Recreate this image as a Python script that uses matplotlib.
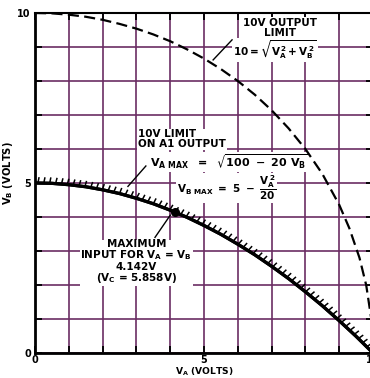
import matplotlib
matplotlib.use('Agg')
import matplotlib.pyplot as plt
import matplotlib.patheffects as pe

# values
va_solid = [0, 0.5, 1, 1.5, 2, 2.5, 3, 3.5, 4, 4.5, 5, 5.5, 6, 6.5, 7, 7.5, 8, 8.5, 9, 9.5, 10]
vb_solid = [5, 4.99, 4.95, 4.89, 4.8, 4.69, 4.55, 4.39, 4.2, 3.99, 3.75, 3.49, 3.2, 2.89,
            2.55, 2.19, 1.8, 1.39, 0.95, 0.49, 0]

va_dash = [0, 0.5, 1, 1.5, 2, 2.5, 3, 3.5, 4, 4.5, 5, 5.5, 6, 6.5, 7, 7.5, 8, 8.5, 9,
           9.3, 9.6, 9.8, 9.95, 10]
vb_dash = [10, 9.99, 9.95, 9.89, 9.8, 9.68, 9.54, 9.37, 9.17, 8.93, 8.66, 8.35, 8.0, 7.6,
           7.14, 6.61, 6.0, 5.27, 4.36, 3.67, 2.8, 1.99, 1.0, 0]

max_point = (4.142, 4.142)

ticks = list(range(11))
tick_labels = ['0', '', '', '', '', '5', '', '', '', '', '10']

plt.rcParams['font.family'] = ['DejaVu Sans']
plt.rcParams['font.weight'] = 'bold'
plt.rcParams['mathtext.fontset'] = 'dejavusans'
plt.rcParams['mathtext.default'] = 'bf'

fig = plt.figure(figsize=(3.7, 3.78), dpi=100)
ax = fig.add_axes([35 / 370, 25 / 378, 338 / 370, 340 / 378])

grid_col = '#6b2d63'
ax.set_xlim(0, 10)
ax.set_ylim(0, 10)
ax.set_xticks(ticks)
ax.set_yticks(ticks)
ax.set_xticklabels(tick_labels)
ax.set_yticklabels(tick_labels)
ax.grid(True, color=grid_col, lw=1.2, zorder=0)
ax.set_axisbelow(True)
ax.tick_params(direction='in', length=5, width=1.3, top=True, right=True,
               labelsize=7, pad=3)
ax.tick_params(axis='x', pad=1.5)
for lab in ax.get_xticklabels() + ax.get_yticklabels():
    lab.set_fontweight('bold')
for s in ['left', 'bottom']:
    ax.spines[s].set_linewidth(2)
ax.spines['top'].set_linewidth(1.5)
ax.spines['right'].set_visible(False)

# curves
ax.plot(va_dash, vb_dash, color='black', lw=1.6, ls=(0, (5, 2.4)), zorder=3)
ax.plot(va_solid, vb_solid, color='black', lw=2.3, zorder=3,
        path_effects=[pe.withTickedStroke(spacing=4.2, angle=80, length=0.9, linewidth=1.1),
                      pe.Normal()])
ax.plot(*max_point, 'o', color='black', ms=5.5, zorder=4)

box = dict(fc='white', ec='none', pad=0.6)
fs = 7.5

ax.text(7.25, 9.55, '10V OUTPUT\nLIMIT', ha='center', va='center', fontsize=fs,
        linespacing=1.0, bbox=box, zorder=2)
ax.text(5.86, 8.92, r'$10 = \sqrt{V_A^{\,2} + V_B^{\,2}}$', ha='left', va='center',
        fontsize=fs, bbox=box, zorder=2)
ax.plot([5.27, 5.83], [8.62, 9.21], color='black', lw=1, zorder=3)

ax.text(3.05, 6.28, '10V LIMIT\nON A1 OUTPUT', ha='left', va='center', fontsize=fs,
        linespacing=1.0, bbox=box, zorder=2)
ax.text(3.4, 5.62, r'$V_{A\,\,MAX}\ \ =\ \ \sqrt{100\ -\ 20\ V_B}$', ha='left', va='center',
        fontsize=8, bbox=box, zorder=2)
ax.plot([2.75, 3.28], [4.9, 5.5], color='black', lw=1, zorder=3)

ax.text(4.2, 4.85, r'$V_{B\,\,MAX}\ =\ 5\ -\ \dfrac{V_A^{\,2}}{20}$', ha='left', va='center',
        fontsize=fs, bbox=box, zorder=2)

ax.text(3.0, 2.68, 'MAXIMUM\n' + r'INPUT FOR $V_A$ = $V_B$' + '\n4.142V\n' + r'($V_C$ = 5.858V)',
        ha='center', va='center', fontsize=fs, linespacing=0.95, bbox=box, zorder=2)
ax.plot([4.0, 3.55], [4.05, 3.4], color='black', lw=1, zorder=3)

ax.set_xlabel(r'$V_A$ (VOLTS)', fontsize=6.6, fontweight='bold')
ax.set_ylabel(r'$V_B$ (VOLTS)', fontsize=7.2, fontweight='bold')
ax.yaxis.set_label_coords(-0.058, 0.53)
ax.xaxis.set_label_coords(0.5, -0.036)

fig.savefig('out.png', dpi=100)
